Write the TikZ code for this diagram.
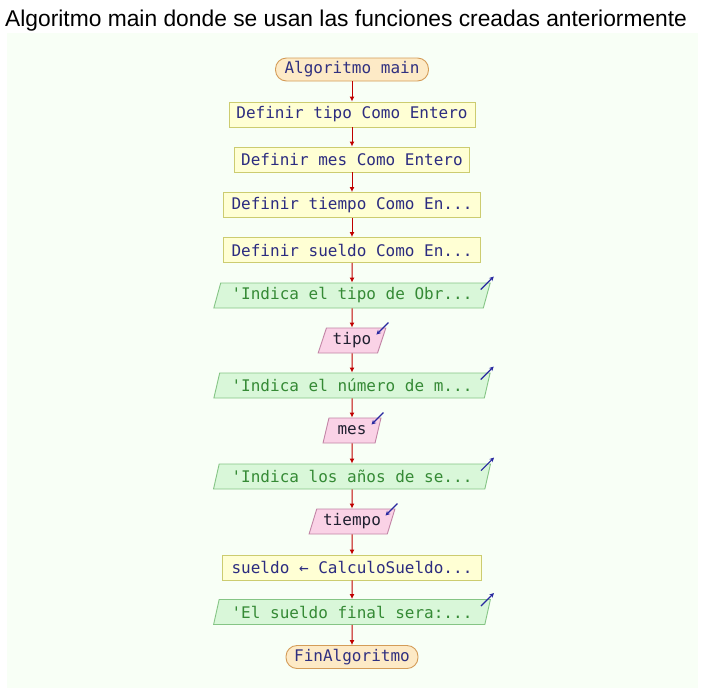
\documentclass[tikz,border=0pt]{standalone}
\usepackage{fontspec}
\setmainfont{Liberation Sans}
\setmonofont{DejaVu Sans Mono}
\usetikzlibrary{shapes.geometric,arrows.meta}
\definecolor{fondo}{HTML}{F8FFF6}
\definecolor{termfill}{HTML}{FDEAC6}
\definecolor{termline}{HTML}{D49C58}
\definecolor{termtext}{HTML}{303080}
\definecolor{procfill}{HTML}{FFFFD4}
\definecolor{procline}{HTML}{CCCC70}
\definecolor{proctext}{HTML}{2C2C80}
\definecolor{outfill}{HTML}{D9F7D9}
\definecolor{outline}{HTML}{85C585}
\definecolor{outtext}{HTML}{358A35}
\definecolor{infill}{HTML}{FAD2E6}
\definecolor{inline}{HTML}{C285A6}
\definecolor{intext}{HTML}{202030}
\definecolor{flowred}{HTML}{C00000}
\definecolor{ioblue}{HTML}{2828A0}

\begin{document}
\begin{tikzpicture}[x=1pt,y=1pt,
        every node/.style={inner sep=0pt,font=\ttfamily\fontsize{16}{18}\selectfont},
        term/.style={draw=termline,line width=0.9pt,fill=termfill,text=termtext,rounded corners=11pt,minimum height=23pt},
        proc/.style={draw=procline,line width=0.9pt,fill=procfill,text=proctext,minimum height=25pt},
        outp/.style={trapezium,trapezium left angle=68,trapezium right angle=112,trapezium stretches,
            draw=outline,line width=0.9pt,fill=outfill,text=outtext,minimum height=25pt,minimum width=277pt},
        inp/.style={trapezium,trapezium left angle=68,trapezium right angle=112,trapezium stretches,
            draw=inline,line width=0.9pt,fill=infill,text=intext,minimum height=25pt},
        flow/.style={draw=flowred,line width=1pt,-{Latex[length=5pt,width=5pt]}},
        io/.style={draw=ioblue,line width=1.2pt,-{Stealth[length=4.5pt,width=4.5pt]}}]
        \useasboundingbox (0,0) rectangle (701,-697);
        \fill [fondo] (7,-33) rectangle (698,-688);
        \node [anchor=base west,font=\rmfamily\fontsize{22.8}{26}\selectfont] (titulo) at (5,-26)
            {Algoritmo main donde se usan las funciones creadas anteriormente};
        % diagrama de flujo
        \node [term,minimum width=153pt] (inicio) at (352,-69.5) {Algoritmo main};
        \node [proc,minimum width=246pt] (deftipo) at (352,-114.5) {Definir tipo Como Entero};
        \node [proc,minimum width=235pt] (defmes) at (352,-159.5) {Definir mes Como Entero};
        \node [proc,minimum width=257pt] (deftiempo) at (352,-205) {Definir tiempo Como En...};
        \node [proc,minimum width=257pt] (defsueldo) at (352,-250) {Definir sueldo Como En...};
        \node [outp] (msgtipo) at (352,-295.5) {'Indica el tipo de Obr...};
        \node [inp,minimum width=68pt] (leetipo) at (352,-340.5) {tipo};
        \node [outp] (msgmes) at (352,-385.5) {'Indica el número de m...};
        \node [inp,minimum width=58pt] (leemes) at (352,-430.5) {mes};
        \node [outp] (msganios) at (352,-476.5) {'Indica los años de se...};
        \node [inp,minimum width=86pt] (leetiempo) at (352,-521.5) {tiempo};
        \node [proc,minimum width=259pt] (calculo) at (352,-567.5) {sueldo ← CalculoSueldo...};
        \node [outp] (msgfinal) at (352,-612) {'El sueldo final sera:...};
        \node [term,minimum width=132pt] (fin) at (352,-657) {FinAlgoritmo};
        % flechas
        \foreach \a/\b in {inicio/deftipo,deftipo/defmes,defmes/deftiempo,deftiempo/defsueldo,
                defsueldo/msgtipo,msgtipo/leetipo,leetipo/msgmes,msgmes/leemes,leemes/msganios,
                msganios/leetiempo,leetiempo/calculo,calculo/msgfinal,msgfinal/fin}
            \draw [flow] (\a) -- (\b);
        \foreach \m in {msgtipo,msgmes,msganios,msgfinal}
            \draw [io] ([shift={(-10,-7)}]\m.top right corner) -- ([shift={(3,6)}]\m.top right corner);
        \foreach \m in {leetipo,leemes,leetiempo}
            \draw [io] ([shift={(2,5)}]\m.top right corner) -- ([shift={(-10,-7)}]\m.top right corner);
\end{tikzpicture}
\end{document}
